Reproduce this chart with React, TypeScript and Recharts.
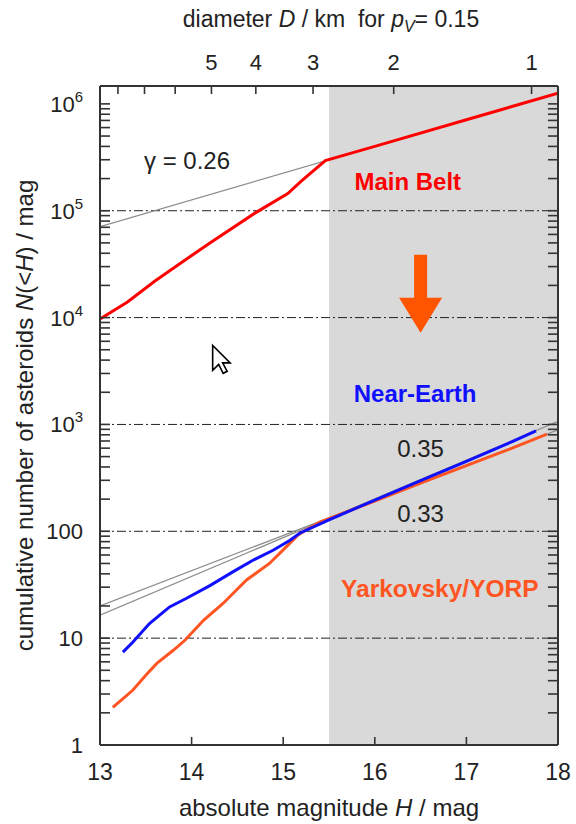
import React from 'react';
import {
  ComposedChart,
  Line,
  XAxis,
  YAxis,
  ReferenceArea,
  ReferenceLine,
  ReferenceDot,
} from 'recharts';

const FONT = '"Liberation Sans", Arial, Helvetica, sans-serif';
const FRAME = '#333333';

// Main Belt: absolute magnitude H and cumulative number N(<H)
const mainBeltH = [13.0, 13.3, 13.6, 13.8, 14.2, 14.7, 15.05, 15.2, 15.46, 16.0, 17.0, 18.0];
const mainBeltN = [9.7e3, 1.4e4, 2.2e4, 2.9e4, 5.0e4, 9.6e4, 1.45e5, 1.9e5, 2.95e5, 4.0e5, 7.1e5, 1.26e6];

// Near-Earth asteroids
const nearEarthH = [13.25, 13.36, 13.54, 13.76, 13.94, 14.2, 14.45, 14.67, 14.89, 15.07, 15.18, 15.5, 16.0, 16.5, 17.0, 17.5, 17.76];
const nearEarthN = [7.4, 9.2, 13.7, 19.6, 23.5, 31, 41.7, 53.6, 66.5, 82, 96, 128, 196, 298, 452, 690, 872];

// Yarkovsky/YORP model population
const yorpH = [13.14, 13.36, 13.5, 13.62, 13.8, 13.93, 14.13, 14.34, 14.6, 14.85, 15.03, 15.16, 15.21, 15.4, 16.0, 16.5, 17.0, 17.5, 17.88];
const yorpN = [2.25, 3.27, 4.5, 5.8, 7.7, 9.6, 14.7, 21, 35, 50, 71, 92, 98, 122, 192, 282, 412, 600, 810];

// power-law fits (end points)
const fitH = [13, 18];
const mainBeltFitN = [7.1e4, 1.26e6]; // gamma = 0.26
const nearEarthFitN = [16.4, 1070]; // 0.35
const yorpFitN = [20, 891]; // 0.33

const magTicks = [13, 14, 15, 16, 17, 18];
const innerMagTicks = [14, 15, 16, 17];
const diameterTicks = [8, 7, 6, 5, 4, 3, 2, 1];
const diameterLabels = [5, 4, 3, 2, 1];
const albedo = 0.15;
const gridDecades = [10, 100, 1e3, 1e4, 1e5];
const shadeFrom = 15.5;

const H_MIN = 13;
const H_MAX = 18;
const N_MAX = 1.47e6;
// inner tick lengths in axis units (about 10 px across, 8 px up/down)
const TICK_H = 0.11;
const TICK_N = 1.19;

const toRows = (hs: number[], ns: number[]) => hs.map((h, i) => ({ h, n: ns[i] }));

// D = K / sqrt(pV) * 10^(-H/5)
const K = 1350;
const dToH = (d: number) => 5 * Math.log10(K / (d * Math.sqrt(albedo)));
const hToD = (h: number) => (K / Math.sqrt(albedo)) * Math.pow(10, -h / 5);

const countTicks: number[] = [];
for (let e = 0; e < 6; e++) {
  for (let k = 1; k < 10; k++) countTicks.push(k * Math.pow(10, e));
}
countTicks.push(1e6);

const isDecade = (v: number) => {
  const e = Math.log10(v);
  return Math.abs(e - Math.round(e)) < 1e-6;
};

const LeftTick = (props: any) => {
  const x = Number(props.x);
  const y = Number(props.y);
  const v = props.payload.value;
  const e = Math.round(Math.log10(v));
  return (
    <g>
      <rect x={x} y={y - 0.8} width={10} height={1.6} fill={FRAME} />
      {isDecade(v) && (
        <text x={x - 17} y={y + 8} textAnchor="end" fontFamily={FONT} fontSize={22} fill="#222">
          {e < 3 ? String(v) : '10'}
          {e >= 3 && (
            <tspan dy={-10} fontSize={15}>
              {e}
            </tspan>
          )}
        </text>
      )}
    </g>
  );
};

const BottomTick = (props: any) => {
  const { x, y, payload } = props;
  return (
    <text x={x} y={y + 35} textAnchor="middle" fontFamily={FONT} fontSize={23} fill="#222">
      {payload.value}
    </text>
  );
};

const TopTick = (props: any) => {
  const { x, y, payload } = props;
  const d = Math.round(hToD(payload.value));
  if (!diameterLabels.includes(d)) return <g />;
  return (
    <text x={x} y={y - 16} textAnchor="middle" fontFamily={FONT} fontSize={22} fill="#222">
      {d}
    </text>
  );
};

const note = (text: string, color: string, size: number, bold: boolean) => (p: any) => (
  <text
    x={p.cx}
    y={p.cy}
    textAnchor="middle"
    dominantBaseline="central"
    fontFamily={FONT}
    fontSize={size}
    fontWeight={bold ? 'bold' : 'normal'}
    fill={color}
  >
    {text}
  </text>
);

const DownArrow = (p: any) => {
  const { cx, cy } = p;
  const pts = [
    [cx - 6.5, cy - 78],
    [cx + 6.5, cy - 78],
    [cx + 6.5, cy - 35],
    [cx + 21.5, cy - 35],
    [cx, cy],
    [cx - 21.5, cy - 35],
    [cx - 6.5, cy - 35],
  ]
    .map((q) => q.join(','))
    .join(' ');
  return <polygon points={pts} fill="#ff5400" />;
};

const Cursor = (p: any) => {
  const { cx, cy } = p;
  const d = 'M0,0 L0,25 L6,19 L10.5,28 L14.5,26 L10,17.5 L17.5,17.5 Z';
  return <path d={d} transform={`translate(${cx},${cy})`} fill="#fff" stroke="#000" strokeWidth={1.6} />;
};

export default function App() {
  const mainBelt = toRows(mainBeltH, mainBeltN);
  const nearEarth = toRows(nearEarthH, nearEarthN);
  const yorp = toRows(yorpH, yorpN);
  const mbFit = toRows(fitH, mainBeltFitN);
  const neFit = toRows(fitH, nearEarthFitN);
  const yFit = toRows(fitH, yorpFitN);
  const frame = { stroke: FRAME, strokeWidth: 2 };

  return (
    <div style={{ position: 'absolute', left: 0, top: 0, background: '#fff' }}>
      <ComposedChart width={576} height={824} margin={{ top: 0, right: 0, bottom: 0, left: 0 }}>
        <XAxis
          xAxisId="bottom"
          type="number"
          dataKey="h"
          domain={[H_MIN, H_MAX]}
          ticks={magTicks}
          interval={0}
          height={79}
          tickSize={0}
          tickMargin={0}
          tick={<BottomTick />}
          axisLine={frame}
          allowDataOverflow
          label={{
            content: (p: any) => {
              const vb = p.viewBox;
              return (
                <text x={vb.x + vb.width / 2} y={vb.y + 71} textAnchor="middle" fontFamily={FONT} fontSize={24} fill="#222">
                  absolute magnitude <tspan fontStyle="italic">H</tspan> / mag
                </text>
              );
            },
          }}
        />
        <XAxis
          xAxisId="top"
          orientation="top"
          type="number"
          dataKey="h"
          domain={[H_MIN, H_MAX]}
          ticks={diameterTicks.map(dToH)}
          interval={0}
          height={86}
          tickSize={0}
          tickMargin={0}
          tick={<TopTick />}
          axisLine={frame}
          allowDataOverflow
          label={{
            content: (p: any) => {
              const vb = p.viewBox;
              return (
                <text x={vb.x + vb.width / 2 + 2} y={27} textAnchor="middle" fontFamily={FONT} fontSize={23} fill="#222">
                  diameter <tspan fontStyle="italic">D</tspan> / km{'\u00a0\u00a0'}for <tspan fontStyle="italic">p</tspan>
                  <tspan fontStyle="italic" fontSize={16} dy={5}>V</tspan>
                  <tspan dy={-5}>= 0.15</tspan>
                </text>
              );
            },
          }}
        />
        <YAxis
          yAxisId="left"
          scale="log"
          domain={[1, N_MAX]}
          ticks={countTicks}
          interval={0}
          width={100}
          tickSize={0}
          tickMargin={0}
          tick={<LeftTick />}
          axisLine={frame}
          allowDataOverflow
          label={{
            content: (p: any) => {
              const vb = p.viewBox;
              const cy = vb.y + vb.height / 2;
              return (
                <text x={33} y={cy} transform={`rotate(-90, 33, ${cy})`} textAnchor="middle" fontFamily={FONT} fontSize={24} fill="#222">
                  cumulative number of asteroids <tspan fontStyle="italic">N</tspan>(&lt;<tspan fontStyle="italic">H</tspan>) / mag
                </text>
              );
            },
          }}
        />
        <YAxis
          yAxisId="right"
          orientation="right"
          scale="log"
          domain={[1, N_MAX]}
          ticks={countTicks}
          width={18}
          tick={false}
          tickLine={false}
          axisLine={frame}
          allowDataOverflow
        />

        <ReferenceArea xAxisId="bottom" yAxisId="left" x1={shadeFrom} x2={H_MAX} y1={1} y2={N_MAX} fill="#d9d9d9" fillOpacity={1} stroke="none" />
        {gridDecades.map((v) => (
          <ReferenceLine key={v} xAxisId="bottom" yAxisId="left" y={v} stroke="#222" strokeWidth={1} strokeDasharray="9 3 2 3" />
        ))}

        <Line xAxisId="bottom" yAxisId="left" data={mbFit} dataKey="n" stroke="#8c8c8c" strokeWidth={1.2} dot={false} isAnimationActive={false} />
        <Line xAxisId="bottom" yAxisId="left" data={neFit} dataKey="n" stroke="#8c8c8c" strokeWidth={1.2} dot={false} isAnimationActive={false} />
        <Line xAxisId="bottom" yAxisId="left" data={yFit} dataKey="n" stroke="#8c8c8c" strokeWidth={1.2} dot={false} isAnimationActive={false} />
        <Line xAxisId="bottom" yAxisId="left" data={mainBelt} dataKey="n" stroke="#ff0000" strokeWidth={3} dot={false} isAnimationActive={false} />
        <Line xAxisId="bottom" yAxisId="left" data={yorp} dataKey="n" stroke="#ff5522" strokeWidth={3} dot={false} isAnimationActive={false} />
        <Line xAxisId="bottom" yAxisId="left" data={nearEarth} dataKey="n" stroke="#1010ff" strokeWidth={3} dot={false} isAnimationActive={false} />

        {countTicks.map((v) => (
          <ReferenceLine
            key={`r${v}`}
            xAxisId="bottom"
            yAxisId="left"
            segment={[{ x: H_MAX - TICK_H, y: v }, { x: H_MAX, y: v }]}
            stroke={FRAME}
            strokeWidth={1.6}
          />
        ))}
        {innerMagTicks.map((h) => (
          <ReferenceLine
            key={`b${h}`}
            xAxisId="bottom"
            yAxisId="left"
            segment={[{ x: h, y: 1 }, { x: h, y: TICK_N }]}
            stroke={FRAME}
            strokeWidth={1.6}
          />
        ))}
        {diameterTicks.map((d) => (
          <ReferenceLine
            key={`t${d}`}
            xAxisId="bottom"
            yAxisId="left"
            segment={[{ x: dToH(d), y: N_MAX }, { x: dToH(d), y: N_MAX / TICK_N }]}
            stroke={FRAME}
            strokeWidth={1.6}
          />
        ))}

        <ReferenceDot xAxisId="bottom" yAxisId="left" x={13.95} y={2.93e5} shape={note('\u03b3 = 0.26', '#222', 24, false)} />
        <ReferenceDot xAxisId="bottom" yAxisId="left" x={16.36} y={1.87e5} shape={note('Main Belt', '#ff0000', 24, true)} />
        <ReferenceDot xAxisId="bottom" yAxisId="left" x={16.5} y={7.2e3} shape={DownArrow} />
        <ReferenceDot xAxisId="bottom" yAxisId="left" x={16.44} y={1950} shape={note('Near-Earth', '#1010ff', 24, true)} />
        <ReferenceDot xAxisId="bottom" yAxisId="left" x={16.5} y={597} shape={note('0.35', '#222', 24, false)} />
        <ReferenceDot xAxisId="bottom" yAxisId="left" x={16.5} y={147} shape={note('0.33', '#222', 24, false)} />
        <ReferenceDot xAxisId="bottom" yAxisId="left" x={16.71} y={29.3} shape={note('Yarkovsky/YORP', '#ff5522', 24.5, true)} />
        <ReferenceDot xAxisId="bottom" yAxisId="left" x={14.23} y={5.5e3} shape={Cursor} />
      </ComposedChart>
    </div>
  );
}
